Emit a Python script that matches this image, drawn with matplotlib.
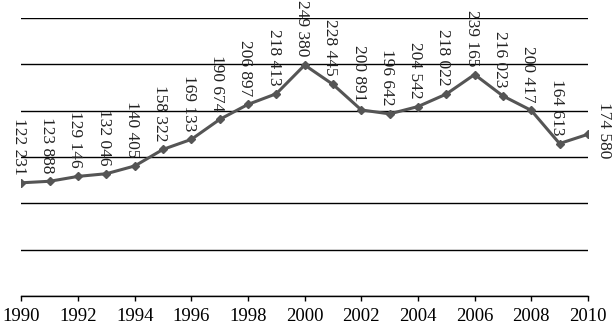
import matplotlib
matplotlib.use("Agg")
import matplotlib.pyplot as plt

years = list(range(1990, 2011))
values = [122231, 123888, 129146, 132046, 140405, 158322, 169133, 190674,
          206897, 218413, 249380, 228445, 200891, 196642, 204542, 218022,
          239165, 216023, 200417, 164613, 174580]
labels = ["122 231", "123 888", "129 146", "132 046", "140 405", "158 322",
          "169 133", "190 674", "206 897", "218 413", "249 380", "228 445",
          "200 891", "196 642", "204 542", "218 022", "239 165", "216 023",
          "200 417", "164 613", "174 580"]
xticks = list(range(1990, 2011, 2))
gridvals = [0, 50000, 100000, 150000, 200000, 250000, 300000]

plt.rcParams["font.family"] = ["Liberation Serif", "DejaVu Serif"]

fig = plt.figure(figsize=(6.13, 3.28), dpi=100)
ax = fig.add_axes([0.035, 0.0976, 0.924, 0.847])

for g in gridvals:
    ax.axhline(g, color="black", lw=1.0, zorder=1)

ax.plot(years, values, color="#555555", lw=2.2, marker="D", ms=4.5, zorder=3)

## data labels, rotated, above the points (last one to the right)
for i, (x, y, t) in enumerate(zip(years, values, labels)):
    if i == len(years) - 1:
        ax.annotate(t, (x, y), xytext=(6, 3), textcoords="offset points",
                    rotation=270, ha="left", va="center", fontsize=12.5,
                    color="#222222", annotation_clip=False)
    else:
        ax.annotate(t, (x, y), xytext=(-2, 6), textcoords="offset points",
                    rotation=270, ha="center", va="bottom", fontsize=12.5,
                    color="#222222", annotation_clip=False)

ax.set_xlim(1990, 2010)
ax.set_ylim(0, 300000)
ax.set_xticks(xticks)
ax.set_xticklabels([str(x) for x in xticks], fontsize=13.5)
ax.set_yticks([])
ax.tick_params(axis="x", direction="out", length=3.5, width=1, pad=5)
for s in ["top", "left", "right"]:
    ax.spines[s].set_visible(False)
ax.spines["bottom"].set_linewidth(1.0)

plt.savefig("out.png", dpi=100)
